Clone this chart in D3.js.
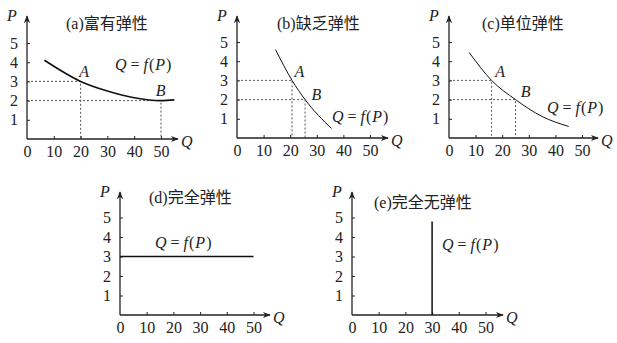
<!DOCTYPE html>
<html>
<head>
<meta charset="utf-8">
<script src="https://cdn.jsdelivr.net/npm/d3@7"></script>
<style>
  body { margin: 0; background: #fff; }
  svg { display: block; }
</style>
</head>
<body>
<div id="chart"></div>
<script>
// --- Data ---
const qTicks = [0, 10, 20, 30, 40, 50];
const pTicks = [1, 2, 3, 4, 5];
const titleTags = ['(a)', '(b)', '(c)', '(d)', '(e)'];
const titleNames = ['富有弹性', '缺乏弹性', '单位弹性', '完全弹性', '完全无弹性'];

// demand curves, [Q, P]
const curveA = [[6.5, 4.1], [20, 3], [30, 2.5], [40, 2.15], [50, 2], [55, 2.04]];
const curveB = [[14.5, 4.6], [20.7, 3], [25.6, 2], [35.5, 0.5]];
const curveC = [[7.6, 4.45], [16, 3], [25, 2], [35, 1.12], [45, 0.6]];
const curveD = [[0, 3], [50, 3]];
const curveE = [[30, 0], [30, 4.8]];

// marked points
const pointsA = [{ name: 'A', q: 20, p: 3 }, { name: 'B', q: 50, p: 2 }];
const pointsB = [{ name: 'A', q: 20.7, p: 3 }, { name: 'B', q: 25.6, p: 2 }];
const pointsC = [{ name: 'A', q: 16, p: 3 }, { name: 'B', q: 25, p: 2 }];

// label anchors [Q, P] for the point names and the Q = f(P) text
const nameLabelsA = [[19.5, 3.5], [48, 2.55]];
const nameLabelsB = [[21.6, 3.45], [28, 2.25]];
const nameLabelsC = [[17.4, 3.45], [27, 2.42]];
const eqLabels = [[32.8, 3.9], [35.7, 1.12], [36.8, 1.59], [13.1, 3.7], [33.7, 3.6]];

// --- Layout ---
const W = 617, H = 343;
const SERIF = 'Liberation Serif';
const CJK = 'Noto Sans CJK SC';
const panels = [
  { x0: 27,  y0: 139, top: 16,  right: 178, uq: 2.68, up: 19.2, curve: curveA, pts: pointsA, names: nameLabelsA, sw: 1.6, tx: 66,  ty: 23 },
  { x0: 237, y0: 138, top: 16,  right: 388, uq: 2.66, up: 19.2, curve: curveB, pts: pointsB, names: nameLabelsB, sw: 1,   tx: 277, ty: 23 },
  { x0: 449, y0: 138, top: 16,  right: 598, uq: 2.66, up: 19.2, curve: curveC, pts: pointsC, names: nameLabelsC, sw: 1,   tx: 482, ty: 23 },
  { x0: 120, y0: 315, top: 192, right: 270, uq: 2.67, up: 19.5, curve: curveD, pts: [], names: [], sw: 1.5, tx: 149, ty: 197 },
  { x0: 352, y0: 315, top: 192, right: 503, uq: 2.67, up: 19.5, curve: curveE, pts: [], names: [], sw: 1.5, tx: 374, ty: 202 }
];

const svg = d3.select('#chart').append('svg').attr('width', W).attr('height', H);

svg.append('defs').append('marker')
  .attr('id', 'arrow').attr('viewBox', '0 0 10 10')
  .attr('refX', 9).attr('refY', 5)
  .attr('markerWidth', 8).attr('markerHeight', 8)
  .attr('markerUnits', 'userSpaceOnUse')
  .attr('orient', 'auto')
  .append('path').attr('d', 'M0,1 L10,5 L0,9 L3,5 Z').attr('fill', '#222');

function italic(sel) {
  return sel.attr('font-family', SERIF).attr('font-style', 'italic')
    .attr('font-size', 16).attr('fill', '#222');
}

panels.forEach((pn, i) => {
  const g = svg.append('g');
  const x = d3.scaleLinear().domain([0, 50]).range([pn.x0, pn.x0 + 50 * pn.uq]);
  const y = d3.scaleLinear().domain([0, 5]).range([pn.y0, pn.y0 - 5 * pn.up]);

  // axes
  const xa = g.append('g').attr('transform', `translate(0,${pn.y0})`)
    .call(d3.axisBottom(x).tickValues(qTicks).tickSize(-3).tickPadding(7).tickFormat(d3.format('d')));
  const ya = g.append('g').attr('transform', `translate(${pn.x0},0)`)
    .call(d3.axisLeft(y).tickValues(pTicks).tickSize(-3).tickPadding(9).tickFormat(d3.format('d')));
  [xa, ya].forEach(a => {
    a.attr('font-family', SERIF).attr('font-size', 16);
    a.select('.domain').remove();
    a.selectAll('.tick text').attr('font-family', SERIF).attr('fill', '#222');
    a.selectAll('.tick line').attr('stroke', '#222');
  });
  xa.selectAll('.tick').filter(d => d === 0).select('line').remove();

  g.append('line').attr('x1', pn.x0).attr('y1', pn.y0).attr('x2', pn.right).attr('y2', pn.y0)
    .attr('stroke', '#222').attr('stroke-width', 1.3).attr('marker-end', 'url(#arrow)');
  g.append('line').attr('x1', pn.x0).attr('y1', pn.y0).attr('x2', pn.x0).attr('y2', pn.top)
    .attr('stroke', '#222').attr('stroke-width', 1.3).attr('marker-end', 'url(#arrow)');

  italic(g.append('text')).attr('x', pn.x0 - 20).attr('y', pn.top + 5).text('P');
  italic(g.append('text')).attr('x', pn.right + 3).attr('y', pn.y0 + 8).text('Q');

  // title
  const t = g.append('text').attr('font-size', 16).attr('fill', '#222')
    .attr('x', pn.tx).attr('y', pn.ty).attr('dy', '0.35em');
  t.append('tspan').attr('font-family', SERIF).text(titleTags[i]);
  t.append('tspan').attr('font-family', CJK).text(titleNames[i]);

  // dashed guides
  pn.pts.forEach(d => {
    g.append('path')
      .attr('d', `M${x(0)},${y(d.p)} H${x(d.q)} V${y(0)}`)
      .attr('fill', 'none').attr('stroke', '#444').attr('stroke-width', 0.9)
      .attr('stroke-dasharray', '2,2');
  });

  // curve
  const line = d3.line().x(d => x(d[0])).y(d => y(d[1]))
    .curve(pn.curve.length > 2 ? d3.curveMonotoneX : d3.curveLinear);
  g.append('path').datum(pn.curve).attr('d', line)
    .attr('fill', 'none').attr('stroke', '#111').attr('stroke-width', pn.sw);

  // point names
  pn.pts.forEach((d, j) => {
    italic(g.append('text'))
      .attr('x', x(pn.names[j][0])).attr('y', y(pn.names[j][1])).attr('dy', '0.35em')
      .text(d.name);
  });

  // Q = f(P)
  const e = italic(g.append('text'))
    .attr('x', x(eqLabels[i][0])).attr('y', y(eqLabels[i][1])).attr('dy', '0.35em');
  e.append('tspan').text('Q');
  e.append('tspan').attr('font-style', 'normal').text(' = ');
  e.append('tspan').text('f');
  e.append('tspan').attr('font-style', 'normal').attr('dx', 1).text('(');
  e.append('tspan').attr('dx', 1).text('P');
  e.append('tspan').attr('font-style', 'normal').attr('dx', 1).text(')');
});
</script>
</body>
</html>
